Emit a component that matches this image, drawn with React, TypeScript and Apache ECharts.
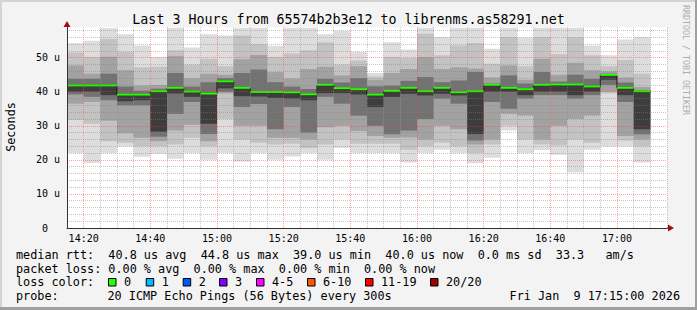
import React, { useEffect, useRef } from 'react';
import * as echarts from 'echarts';

// ---- data ----
const slotTimes = ['14:15','14:20','14:25','14:30','14:35','14:40','14:45','14:50','14:55','15:00','15:05','15:10','15:15','15:20','15:25','15:30','15:35','15:40','15:45','15:50','15:55','16:00','16:05','16:10','16:15','16:20','16:25','16:30','16:35','16:40','16:45','16:50','16:55','17:00','17:05'];
const axisTimeLabels = ['14:20','14:40','15:00','15:20','15:40','16:00','16:20','16:40','17:00'];
const yLabelValues = [0, 10, 20, 30, 40, 50];
const yLabelTexts = ['0\u00a0\u00a0', '10 u', '20 u', '30 u', '40 u', '50 u'];

const medianRtt = [41.7,41.7,41.7,39.0,39.0,40.0,41.0,39.9,39.3,42.9,41.0,39.8,39.8,39.7,39.1,41.9,40.9,40.6,39.0,40.1,41.0,40.0,41.0,39.7,40.0,41.9,41.0,40.6,41.9,42.0,42.0,41.4,44.8,41.0,40.0];
const smokeMax = [54.2,55.0,58.7,56.9,53.6,50.2,58.8,53.0,56.9,56.5,58.8,58.8,53.5,58.8,58.8,56.9,57.9,51.7,45.5,54.5,52.4,58.8,56.1,58.8,58.8,52.6,58.8,55.9,58.8,58.8,58.8,53.6,50.7,55.3,56.1];
const smokeU1 = [51.5,50.2,55.5,51.7,47.2,47.3,52.2,48.0,49.7,47.5,56.5,54.0,50.2,51.2,52.2,54.5,48.0,49.2,44.5,50.2,49.9,57.0,50.7,53.6,54.3,48.2,56.1,47.5,56.1,51.0,56.0,50.7,47.5,49.3,45.3];
const smokeU2 = [47.7,45.3,50.3,46.3,41.8,42.0,50.4,44.0,45.3,45.0,49.5,50.8,45.8,43.9,46.7,47.3,44.8,47.5,43.5,45.5,46.7,50.2,46.7,47.2,46.8,44.2,47.7,43.5,49.7,45.0,48.5,46.3,46.0,44.2,41.4];
const smokeU3 = [43.8,43.8,45.3,41.5,40.3,40.9,45.5,41.5,42.8,44.0,45.5,46.5,42.8,41.5,40.8,43.8,42.7,44.0,41.6,41.8,43.2,44.3,42.8,43.3,45.8,42.4,44.8,42.4,45.8,43.0,45.0,43.8,45.3,42.7,40.5];
const smokeU4 = [42.1,42.1,42.1,39.4,39.4,40.4,41.4,40.3,39.7,43.3,41.4,40.2,40.2,40.1,39.5,42.3,41.3,41.0,39.4,40.5,41.4,40.4,41.4,40.1,40.4,42.3,41.4,41.0,42.3,42.4,42.4,41.8,45.2,41.4,40.4];
const smokeL4 = [40.0,40.0,39.0,37.2,37.5,28.3,39.5,38.5,30.6,41.0,38.7,38.6,38.2,38.0,37.5,39.6,39.6,39.2,35.5,38.5,39.4,38.9,39.4,38.9,27.6,40.0,40.0,39.0,40.0,40.0,39.0,40.0,43.5,39.0,29.0];
const smokeL3 = [39.2,38.5,37.5,36.0,36.0,26.8,33.5,37.0,27.6,40.0,35.5,36.4,29.0,35.5,28.0,38.5,36.5,33.0,30.0,27.5,28.6,32.0,38.0,36.5,25.7,37.0,35.0,38.0,39.0,39.0,38.0,39.0,42.0,37.0,27.5];
const smokeL2 = [36.5,37.0,31.5,27.8,26.5,25.5,28.6,30.3,25.5,39.5,30.0,30.0,26.5,26.5,26.0,29.6,30.0,28.5,27.0,26.5,26.6,26.0,30.0,29.0,24.5,26.0,33.5,33.0,26.0,30.0,32.0,33.0,40.0,27.0,26.0];
const smokeL1 = [31.7,30.6,25.5,25.0,24.0,24.0,24.5,26.5,24.0,32.0,26.0,25.0,24.5,24.7,23.5,24.5,26.0,24.7,24.7,24.7,23.0,24.0,25.0,24.0,22.0,24.5,30.0,26.0,24.5,24.2,26.0,25.0,39.5,25.7,24.0];
const smokeMin = [22.0,19.1,22.0,23.9,20.9,21.8,20.3,22.0,20.0,22.0,19.5,22.0,20.0,21.0,22.0,20.0,23.5,22.0,22.0,22.0,19.2,22.0,23.0,22.0,19.0,20.6,28.6,22.0,22.9,21.5,16.3,23.0,23.9,23.9,19.2];

const lossLabels = ['0', '1', '2', '3', '4-5', '6-10', '11-19', '20/20'];
const lossColors = ['#26ff00', '#00b8ff', '#0059ff', '#7e00ff', '#ff00ff', '#ff5500', '#ff0000', '#a00000'];

const titleText = 'Last 3 Hours from 65574b2b3e12 to librenms.as58291.net';
const legendLine1 = 'median rtt:  40.8 us avg  44.8 us max  39.0 us min  40.0 us now  0.0 ms sd  33.3   am/s';
const legendLine2 = 'packet loss: 0.00 % avg  0.00 % max  0.00 % min  0.00 % now';
const probeText = '20 ICMP Echo Pings (56 Bytes) every 300s';
const dateText = 'Fri Jan  9 17:15:00 2026';

// ---- helpers ----
const toMin = (t: string) => {
  const [h, m] = t.split(':').map(Number);
  return h * 60 + m;
};
const START = toMin('14:15');
const STEP = 5;
const slotStart = slotTimes.map((t) => toMin(t) - START);
const nb = (s: string) => s.replace(/ /g, '\u00a0');

const MONO = '"DejaVu Sans Mono", monospace';
const bandColors = ['#dddddd', '#c3c3c3', '#a2a2a2', '#727272', '#3d3d3d'];
const bandsLo = [smokeMin, smokeL1, smokeL2, smokeL3, smokeL4];
const bandsHi = [smokeMax, smokeU1, smokeU2, smokeU3, smokeU4];

export default function App() {
  const ref = useRef<HTMLDivElement>(null);
  useEffect(() => {
    if (!ref.current) return;
    const chart = echarts.init(ref.current, undefined, { renderer: 'svg' });

    const bandSeries = bandColors.map((color, k) => ({
      type: 'custom',
      name: 'band' + k,
      z: 2 + k * 0.01,
      encode: { x: 0, y: [1, 2] },
      data: slotStart.map((s, i) => [s, bandsLo[k][i], bandsHi[k][i]]),
      renderItem: (params: any, api: any) => {
        const x0 = api.value(0);
        const lo = api.value(1);
        const hi = api.value(2);
        const p1 = api.coord([x0, hi]);
        const p2 = api.coord([x0 + STEP, lo]);
        return {
          type: 'rect',
          shape: { x: p1[0], y: p1[1], width: p2[0] - p1[0], height: p2[1] - p1[1] },
          style: { fill: color },
        };
      },
    }));

    const stepData = slotStart.map((s, i) => [s, medianRtt[i]]);
    stepData.push([slotStart[slotStart.length - 1] + STEP, medianRtt[medianRtt.length - 1]]);

    const graphics: any[] = [];
    // frame
    graphics.push({ type: 'rect', shape: { x: 0, y: 0, width: 697, height: 2 }, style: { fill: '#d4d4d4' }, silent: true });
    graphics.push({ type: 'rect', shape: { x: 0, y: 0, width: 2, height: 310 }, style: { fill: '#d4d4d4' }, silent: true });
    graphics.push({ type: 'rect', shape: { x: 695, y: 0, width: 2, height: 310 }, style: { fill: '#a0a0a0' }, silent: true });
    graphics.push({ type: 'rect', shape: { x: 0, y: 307, width: 697, height: 3 }, style: { fill: '#a0a0a0' }, silent: true });
    // title
    graphics.push({ type: 'text', x: 348.5, y: 19, style: { text: titleText, font: '13.3px ' + MONO, fill: '#000', align: 'center', verticalAlign: 'middle' } });
    // y axis name
    graphics.push({ type: 'text', x: 11, y: 127, rotation: Math.PI / 2, style: { text: 'Seconds', font: '11.8px ' + MONO, fill: '#000', align: 'center', verticalAlign: 'middle' } });
    // rrdtool watermark
    graphics.push({ type: 'text', x: 686, y: 60, rotation: -Math.PI / 2, style: { text: 'RRDTOOL / TOBI OETIKER', font: '8.3px ' + MONO, fill: '#acacac', align: 'center', verticalAlign: 'middle' } });
    // axis arrows
    graphics.push({ type: 'polygon', shape: { points: [[67, 21], [63.5, 27], [70.5, 27]] }, style: { fill: '#a01010' }, z: 20 });
    graphics.push({ type: 'polygon', shape: { points: [[674, 228], [668, 224.5], [668, 231.5]] }, style: { fill: '#a01010' }, z: 20 });
    graphics.push({ type: 'rect', shape: { x: 667, y: 227.5, width: 2, height: 1 }, style: { fill: '#333' }, z: 20 });
    // legend text lines
    const lf = '11.8px ' + MONO;
    graphics.push({ type: 'text', x: 16, y: 255, style: { text: nb(legendLine1), font: lf, fill: '#000', verticalAlign: 'middle' } });
    graphics.push({ type: 'text', x: 16, y: 268.5, style: { text: nb(legendLine2), font: lf, fill: '#000', verticalAlign: 'middle' } });
    graphics.push({ type: 'text', x: 16, y: 282.3, style: { text: nb('loss color:'), font: lf, fill: '#000', verticalAlign: 'middle' } });
    const boxX = [108, 145.7, 182.7, 219, 256, 307, 365, 430];
    lossLabels.forEach((lab, i) => {
      graphics.push({ type: 'rect', shape: { x: boxX[i] + 0.5, y: 278.5, width: 7.5, height: 7.5 }, style: { fill: lossColors[i], stroke: '#000', lineWidth: 1 } });
      graphics.push({ type: 'text', x: boxX[i] + 16, y: 282.3, style: { text: lab, font: lf, fill: '#000', verticalAlign: 'middle' } });
    });
    graphics.push({ type: 'text', x: 16, y: 296, style: { text: 'probe:', font: lf, fill: '#000', verticalAlign: 'middle' } });
    graphics.push({ type: 'text', x: 107.5, y: 296, style: { text: nb(probeText), font: lf, fill: '#000', verticalAlign: 'middle' } });
    graphics.push({ type: 'text', x: 680, y: 296, style: { text: nb(dateText), font: lf, fill: '#000', align: 'right', verticalAlign: 'middle' } });

    const grayDot = 'rgba(130,130,130,0.45)';
    const redDot = 'rgba(255,50,50,0.45)';

    chart.setOption({
      animation: false,
      backgroundColor: '#f3f3f3',
      grid: { left: 67, top: 27, width: 600, height: 201, show: true, backgroundColor: '#ffffff', borderWidth: 0 },
      xAxis: {
        type: 'value',
        min: 0,
        max: 180,
        interval: 5,
        z: 10,
        axisLine: { show: true, onZero: false, lineStyle: { color: '#333', width: 1 } },
        axisTick: { show: false },
        axisLabel: {
          margin: 5,
          fontFamily: MONO,
          fontSize: 10,
          color: '#000',
          showMinLabel: true,
          showMaxLabel: true,
          formatter: (v: number) => {
            const l = axisTimeLabels.find((t) => toMin(t) - START === v);
            return l ?? '';
          },
        },
        splitLine: { show: true, lineStyle: { color: [grayDot, redDot, grayDot, grayDot], type: [1, 1], width: 1 } },
      },
      yAxis: {
        type: 'value',
        min: 0,
        max: 59,
        interval: 2,
        z: 10,
        axisLine: { show: true, lineStyle: { color: '#333', width: 1 } },
        axisTick: { show: false },
        axisLabel: {
          margin: 7,
          fontFamily: MONO,
          fontSize: 10,
          color: '#000',
          showMaxLabel: false,
          formatter: (v: number) => {
            const idx = yLabelValues.indexOf(v);
            return idx >= 0 ? yLabelTexts[idx] : '';
          },
        },
        splitLine: { show: true, showMaxLine: false, lineStyle: { color: [redDot, grayDot, grayDot, grayDot, grayDot], type: [1, 1], width: 1 } },
      },
      series: [
        ...bandSeries,
        {
          type: 'line',
          data: stepData,
          step: 'end',
          symbol: 'none',
          z: 3,
          lineStyle: { color: '#111', width: 1 },
        },
        {
          type: 'custom',
          z: 4,
          encode: { x: 0, y: 1 },
          data: slotStart.map((s, i) => [s, medianRtt[i]]),
          renderItem: (params: any, api: any) => {
            const x0 = api.value(0);
            const m = api.value(1);
            const p1 = api.coord([x0, m]);
            const p2 = api.coord([x0 + STEP, m]);
            return {
              type: 'rect',
              shape: { x: p1[0], y: p1[1] - 1.5, width: p2[0] - p1[0], height: 2 },
              style: { fill: lossColors[0] },
            };
          },
        },
      ],
      graphic: graphics,
    });
    return () => chart.dispose();
  }, []);
  return <div ref={ref} style={{ position: 'fixed', left: 0, top: 0, width: 697, height: 310 }} />;
}
